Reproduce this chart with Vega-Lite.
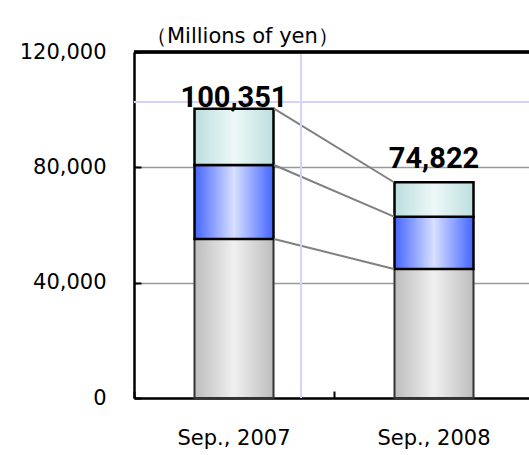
{
  "$schema": "https://vega.github.io/schema/vega-lite/v6.json",
  "autosize": {"type": "none"},
  "width": 395,
  "height": 346,
  "padding": {"left": 134, "top": 52, "right": 0, "bottom": 57},
  "background": "white",
  "config": {"view": {"stroke": null}},
  "title": {
    "text": "（Millions of yen）",
    "anchor": "start",
    "frame": "group",
    "dx": 12,
    "dy": 34,
    "offset": 7,
    "baseline": "bottom",
    "font": "DejaVu Sans",
    "fontSize": 21,
    "fontWeight": "normal",
    "color": "#000000"
  },
  "data": {
    "values": [
      {"period": "Sep., 2007", "segment": "s1", "value": 55150},
      {"period": "Sep., 2007", "segment": "s2", "value": 25650},
      {"period": "Sep., 2007", "segment": "s3", "value": 19551},
      {"period": "Sep., 2008", "segment": "s1", "value": 44750},
      {"period": "Sep., 2008", "segment": "s2", "value": 18150},
      {"period": "Sep., 2008", "segment": "s3", "value": 11922}
    ]
  },
  "transform": [
    {"stack": "value", "groupby": ["period"], "sort": [{"field": "segment", "order": "ascending"}], "as": ["v0", "v1"]}
  ],
  "layer": [
    {
      "mark": {"type": "rule", "color": "#d4d4fa", "strokeWidth": 2},
      "encoding": {"y": {"datum": 102700, "type": "quantitative"}}
    },
    {
      "mark": {"type": "bar", "stroke": "#333333", "strokeWidth": 2, "width": {"band": 0.395},
        "color": {"gradient": "linear", "x1": 0, "x2": 1, "y1": 0, "y2": 0,
          "stops": [{"offset": 0, "color": "#bdbdbd"}, {"offset": 0.5, "color": "#f0f0f0"}, {"offset": 1, "color": "#bdbdbd"}]}},
      "transform": [{"filter": "datum.segment === 's1'"}],
      "encoding": {
        "x": {"field": "period", "type": "nominal", "sort": null,
          "scale": {"range": [0, 400], "paddingInner": 0, "paddingOuter": 0},
          "axis": {"title": null, "domainColor": "#000000", "domainWidth": 2.5, "bandPosition": 0,
            "tickColor": "#000000", "tickWidth": 2, "tickSize": -7, "labelPadding": 36,
            "labelFont": "DejaVu Sans", "labelFontSize": 21, "labelColor": "#000000", "labelAngle": 0, "grid": false}},
        "y": {"field": "v1", "type": "quantitative",
          "scale": {"domain": [0, 120000]},
          "axis": {"title": null, "values": [0, 40000, 80000, 120000], "format": ",d",
            "domainColor": "#000000", "domainWidth": 2.5,
            "tickColor": "#000000", "tickWidth": 2, "tickSize": -7, "labelPadding": 35,
            "labelFont": "DejaVu Sans", "labelFontSize": 21, "labelColor": "#000000",
            "grid": true, "gridColor": "#999999", "gridWidth": 1.5}},
        "y2": {"field": "v0"}
      }
    },
    {
      "mark": {"type": "bar", "stroke": "#000000", "strokeWidth": 2.5, "width": {"band": 0.395},
        "color": {"gradient": "linear", "x1": 0, "x2": 1, "y1": 0, "y2": 0,
          "stops": [{"offset": 0, "color": "#4466ff"}, {"offset": 0.5, "color": "#d8e0ff"}, {"offset": 1, "color": "#4466ff"}]}},
      "transform": [{"filter": "datum.segment === 's2'"}],
      "encoding": {
        "x": {"field": "period", "type": "nominal", "sort": null},
        "y": {"field": "v1", "type": "quantitative"},
        "y2": {"field": "v0"}
      }
    },
    {
      "mark": {"type": "bar", "stroke": "#000000", "strokeWidth": 2.5, "width": {"band": 0.395},
        "color": {"gradient": "linear", "x1": 0, "x2": 1, "y1": 0, "y2": 0,
          "stops": [{"offset": 0, "color": "#bcdede"}, {"offset": 0.5, "color": "#eef8f8"}, {"offset": 1, "color": "#bcdede"}]}},
      "transform": [{"filter": "datum.segment === 's3'"}],
      "encoding": {
        "x": {"field": "period", "type": "nominal", "sort": null},
        "y": {"field": "v1", "type": "quantitative"},
        "y2": {"field": "v0"}
      }
    },
    {
      "transform": [
        {"pivot": "period", "value": "v1", "groupby": ["segment"]}
      ],
      "mark": {"type": "rule", "color": "#808080", "strokeWidth": 2, "xOffset": 40, "x2Offset": -40},
      "encoding": {
        "x": {"datum": "Sep., 2007", "type": "nominal"},
        "x2": {"datum": "Sep., 2008"},
        "y": {"field": "Sep\\., 2007", "type": "quantitative"},
        "y2": {"field": "Sep\\., 2008"}
      }
    },
    {
      "mark": {"type": "rule", "color": "#d4d4fa", "strokeWidth": 2, "xOffset": 67},
      "encoding": {"x": {"datum": "Sep., 2007", "type": "nominal"}}
    },
    {
      "mark": {"type": "rule", "color": "#000000", "strokeWidth": 2.5},
      "encoding": {"y": {"datum": 120000, "type": "quantitative"}}
    },
    {
      "transform": [
        {"aggregate": [{"op": "sum", "field": "value", "as": "total"}], "groupby": ["period"]},
        {"filter": "datum.period === 'Sep., 2007'"}
      ],
      "mark": {"type": "text", "font": "Roboto", "fontWeight": "bold", "fontSize": 29, "baseline": "alphabetic", "dy": -2, "color": "#000000"},
      "encoding": {
        "x": {"field": "period", "type": "nominal", "sort": null},
        "y": {"field": "total", "type": "quantitative"},
        "text": {"field": "total", "type": "quantitative", "format": ",d"}
      }
    },
    {
      "transform": [
        {"aggregate": [{"op": "sum", "field": "value", "as": "total"}], "groupby": ["period"]},
        {"filter": "datum.period === 'Sep., 2008'"}
      ],
      "mark": {"type": "text", "font": "Roboto", "fontWeight": "bold", "fontSize": 29, "baseline": "alphabetic", "dy": -14, "color": "#000000"},
      "encoding": {
        "x": {"field": "period", "type": "nominal", "sort": null},
        "y": {"field": "total", "type": "quantitative"},
        "text": {"field": "total", "type": "quantitative", "format": ",d"}
      }
    }
  ]
}
